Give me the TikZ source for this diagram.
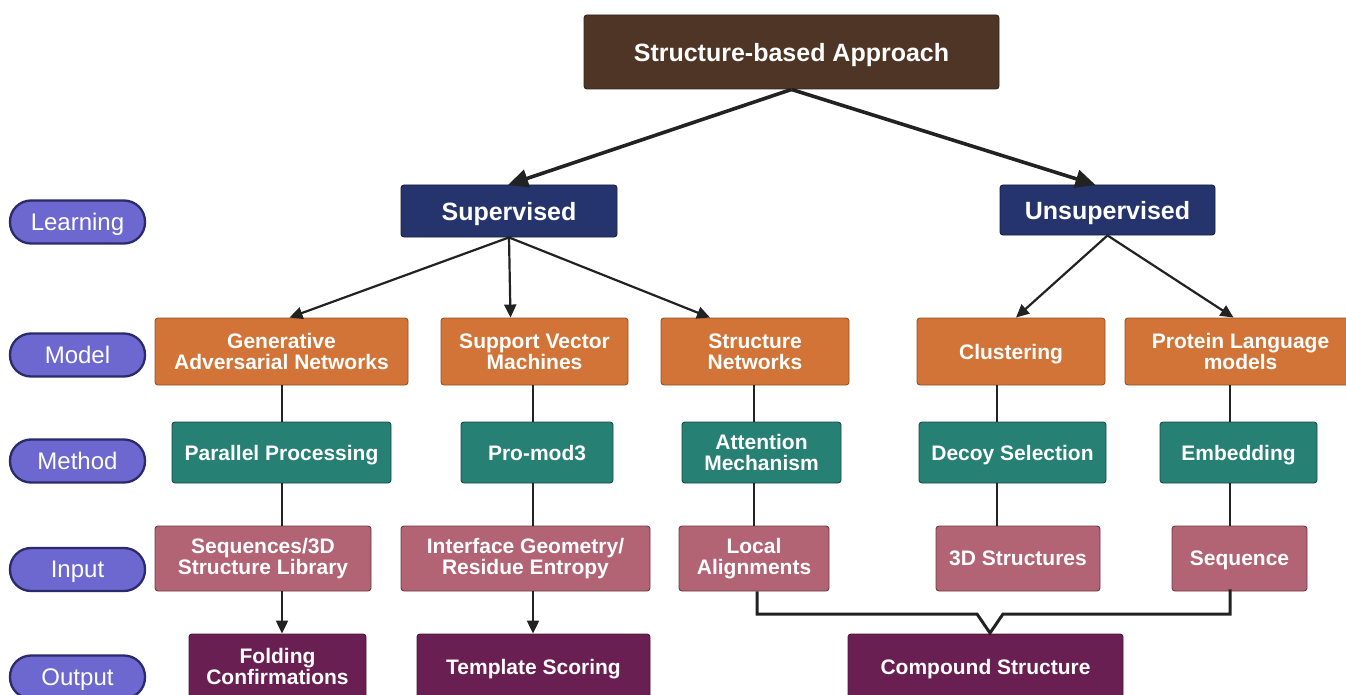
\documentclass[tikz,border=0pt]{standalone}
\usepackage{fontspec}
\setmainfont{Liberation Sans}
\usetikzlibrary{arrows.meta,calc}
\definecolor{cbrown}{HTML}{4F3525}
\definecolor{cnavy}{HTML}{26346E}
\definecolor{corange}{HTML}{D27438}
\definecolor{cteal}{HTML}{268073}
\definecolor{cmauve}{HTML}{B26374}
\definecolor{cpurple}{HTML}{6A1F52}
\definecolor{cpill}{HTML}{6C68D0}
\definecolor{cpillb}{HTML}{2B2A6A}
\definecolor{cline}{HTML}{222222}
\tikzset{
  basebox/.style={rectangle, rounded corners=3pt, inner sep=0pt, align=center, text=white, line width=0.9pt,
    font={\fontsize{21}{21}\selectfont\bfseries}},
  oneline/.style={text depth=0pt},
  topbox/.style={basebox, oneline, fill=cbrown, draw=cbrown!70!black, font={\fontsize{25}{25}\selectfont\bfseries}},
  learnbox/.style={basebox, oneline, fill=cnavy, draw=cnavy!60!black, font={\fontsize{25}{25}\selectfont\bfseries}},
  modelbox/.style={basebox, fill=corange, draw=corange!70!black, minimum height=67pt},
  methodbox/.style={basebox, fill=cteal, draw=cteal!60!black, minimum height=61pt},
  inputbox/.style={basebox, fill=cmauve, draw=cmauve!60!black, minimum height=65pt},
  outputbox/.style={basebox, fill=cpurple, draw=cpurple!70!black, minimum height=65pt},
  pill/.style={rectangle, oneline, rounded corners=21pt, fill=cpill, draw=cpillb, line width=2.3pt, minimum width=135pt,
    minimum height=43pt, inner sep=0pt, text=white, font={\fontsize{24}{24}\selectfont}},
  bigarrow/.style={draw=cline, line width=3.6pt, -{Triangle[length=20pt,width=18pt]}, shorten >=-1pt},
  midarrow/.style={draw=cline, line width=2.2pt, -{Triangle[length=13pt,width=12pt]}},
  link/.style={draw=cline, line width=2pt},
  bracket/.style={draw=cline, line width=3pt, line join=miter},
}
\begin{document}
\begin{tikzpicture}[x=1pt,y=-1pt]
\useasboundingbox (0,0) rectangle (1346,695);
\clip (0,0) rectangle (1346,695);
% top
\node[topbox, minimum width=415pt, minimum height=74pt] (top) at (791.5,52) {Structure-based Approach};
\node[learnbox, minimum width=216pt, minimum height=52pt] (sup) at (509,211) {Supervised};
\node[learnbox, minimum width=215pt, minimum height=50pt] (uns) at (1107.5,210) {Unsupervised};
% pills
\node[pill] (pl) at (77.5,222) {Learning};
\node[pill] (pmo) at (77.5,355) {Model};
\node[pill] (pme) at (77.5,461) {Method};
\node[pill] (pin) at (77.5,569.5) {Input};
\node[pill] (pou) at (77.5,677) {Output};
% model row
\node[modelbox, minimum width=253pt] (gan) at (281.5,351.5) {Generative\\Adversarial Networks};
\node[modelbox, minimum width=187pt] (svm) at (534.5,351.5) {Support Vector\\Machines};
\node[modelbox, minimum width=188pt] (sn) at (755,351.5) {Structure\\Networks};
\node[modelbox, oneline, minimum width=188pt] (clu) at (1011,351.5) {Clustering};
\node[modelbox, minimum width=231pt] (plm) at (1240.5,351.5) {Protein Language\\models};
% method row
\node[methodbox, oneline, minimum width=219pt] (pp) at (281.5,452.5) {Parallel Processing};
\node[methodbox, oneline, minimum width=152pt] (pm) at (537,452.5) {Pro-mod3};
\node[methodbox, minimum width=159pt] (att) at (761.5,452.5) {Attention\\Mechanism};
\node[methodbox, oneline, minimum width=187pt] (dec) at (1012.5,452.5) {Decoy Selection};
\node[methodbox, oneline, minimum width=157pt] (emb) at (1238.5,452.5) {Embedding};
% input row
\node[inputbox, minimum width=216pt] (seqd) at (263,558.5) {Sequences/3D\\Structure Library};
\node[inputbox, minimum width=249pt] (ifg) at (525.5,558.5) {Interface Geometry/\\Residue Entropy};
\node[inputbox, minimum width=150pt] (loc) at (754,558.5) {Local\\Alignments};
\node[inputbox, oneline, minimum width=164pt] (s3d) at (1018,558.5) {3D Structures};
\node[inputbox, oneline, minimum width=135pt] (seq) at (1239.5,558.5) {Sequence};
% output row
\node[outputbox, minimum width=177pt] (fold) at (277.5,666.5) {Folding\\Confirmations};
\node[outputbox, oneline, minimum width=233pt] (tmpl) at (533.5,666.5) {Template Scoring};
\node[outputbox, oneline, minimum width=275pt] (comp) at (985.5,666.5) {Compound Structure};
% column coordinates
\coordinate (c1) at (282,0);
\coordinate (c2) at (533,0);
\coordinate (c3) at (754,0);
\coordinate (c3b) at (757,0);
\coordinate (c4) at (997,0);
\coordinate (c5) at (1230,0);
\coordinate (bl) at (977,614);
\coordinate (br) at (1003,614);
\coordinate (tip) at (990,633);
% top arrows
\draw[bigarrow] (top.south) -- (sup.north);
\draw[bigarrow] (top.south) -- ([xshift=-13pt]uns.north);
% second level arrows
\draw[midarrow] (sup.south) -- ([xshift=8pt]gan.north);
\draw[midarrow] (sup.south) -- ([xshift=-24pt]svm.north);
\draw[midarrow] (sup.south) -- ([xshift=-45pt]sn.north);
\draw[midarrow] (uns.south) -- ([xshift=5pt]clu.north);
\draw[midarrow] (uns.south) -- ([xshift=-7pt]plm.north);
% vertical links
\draw[link] (gan.south -| c1) -- (pp.north -| c1);
\draw[link] (pp.south -| c1) -- (seqd.north -| c1);
\draw[midarrow] (seqd.south -| c1) -- (fold.north -| c1);
\draw[link] (svm.south -| c2) -- (pm.north -| c2);
\draw[link] (pm.south -| c2) -- (ifg.north -| c2);
\draw[midarrow] (ifg.south -| c2) -- (tmpl.north -| c2);
\draw[link] (sn.south -| c3) -- (att.north -| c3);
\draw[link] (att.south -| c3) -- (loc.north -| c3);
\draw[link] (clu.south -| c4) -- (dec.north -| c4);
\draw[link] (dec.south -| c4) -- (s3d.north -| c4);
\draw[link] (plm.south -| c5) -- (emb.north -| c5);
\draw[link] (emb.south -| c5) -- (seq.north -| c5);
% bracket to compound structure
\draw[bracket] (loc.south -| c3b) |- (bl) -- (tip) -- (br) -| ([yshift=2pt]seq.south -| c5);
\end{tikzpicture}
\end{document}
